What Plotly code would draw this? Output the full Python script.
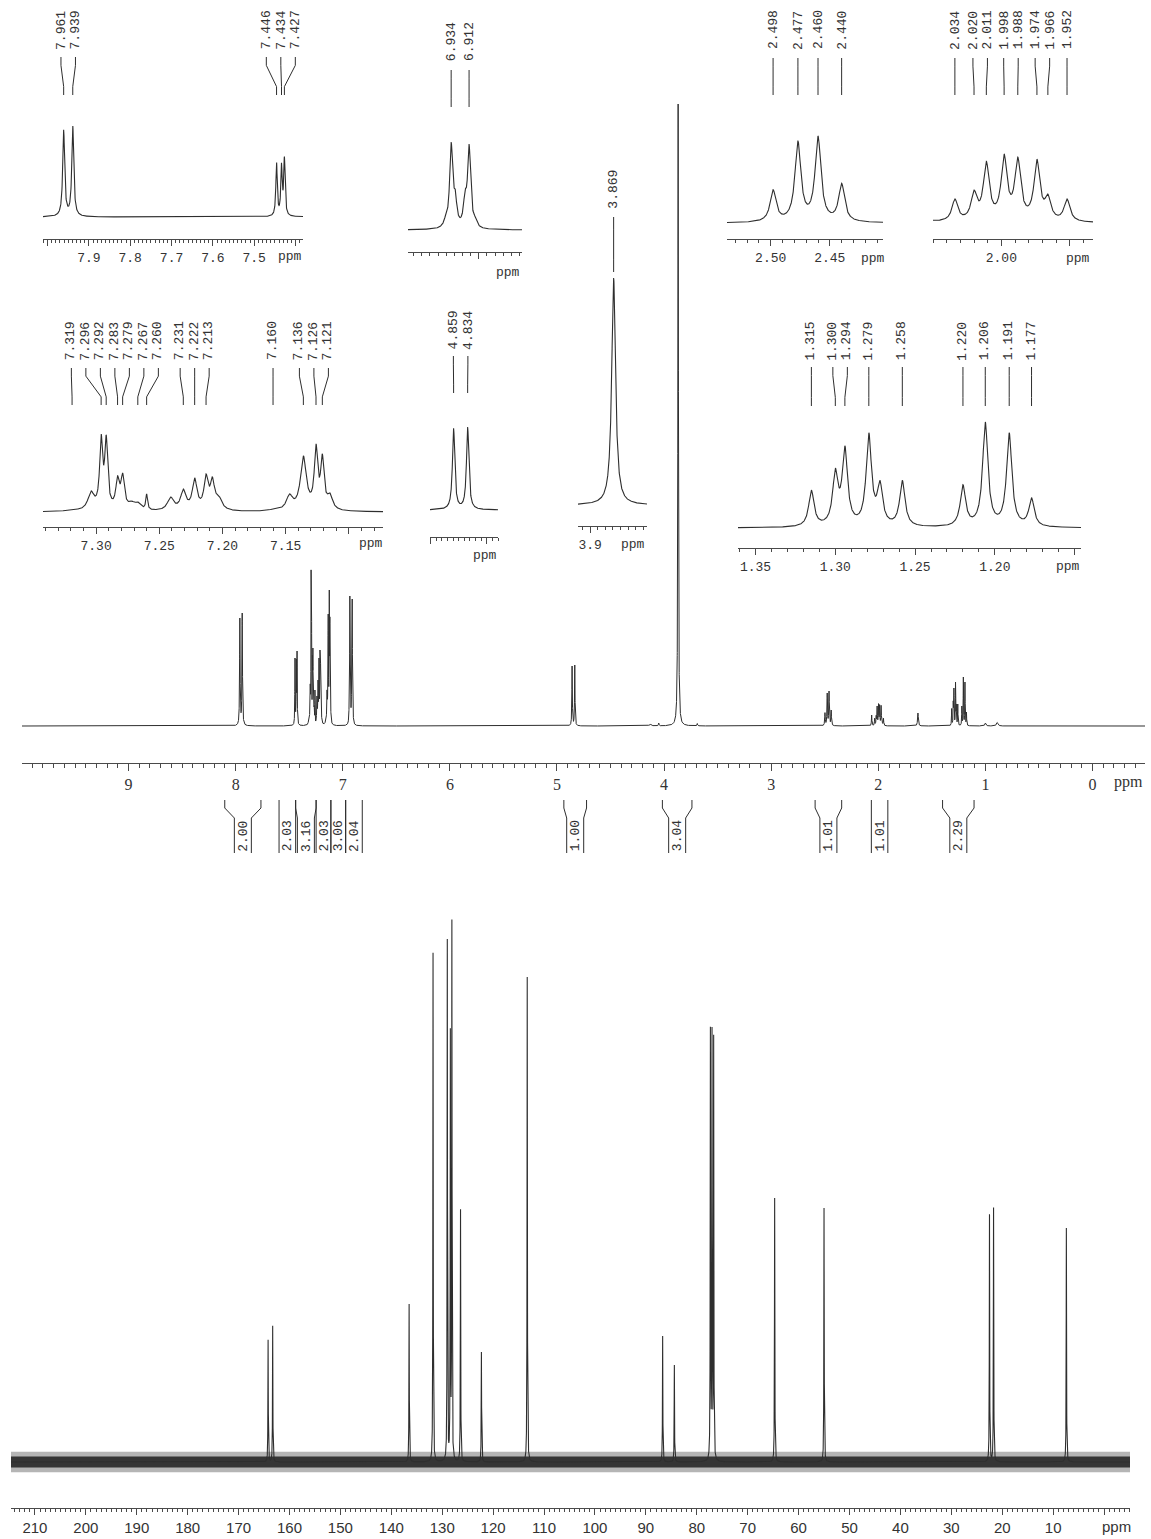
import numpy as np
import plotly.graph_objects as go

W, H = 1151, 1539

# ======================= DATA =======================
# 1H lines: chemical shift (ppm), observed height (main-spectrum scale), half width (ppm)
h1_ppm = [7.961, 7.939, 7.446, 7.434, 7.427,
          7.319, 7.304, 7.296, 7.292, 7.283, 7.279, 7.272, 7.267, 7.260,
          7.241, 7.231, 7.222, 7.213, 7.208, 7.203,
          7.160, 7.147, 7.136, 7.126, 7.121, 7.115,
          6.941, 6.934, 6.929, 6.917, 6.912, 6.905,
          4.859, 4.834, 4.130, 4.050, 3.869, 3.690,
          2.498, 2.477, 2.460, 2.440,
          2.062, 2.034, 2.020, 2.011, 1.998, 1.988, 1.974, 1.966, 1.952,
          1.630,
          1.315, 1.300, 1.294, 1.279, 1.272, 1.258, 1.220, 1.206, 1.191, 1.177,
          1.000, 0.890]
h1_height = [108, 113, 68, 67, 75,
             6, 42, 156, 154, 72, 78, 22, 20, 36,
             30, 46, 68, 76, 70, 34,
             6, 36, 112, 136, 116, 38,
             21, 130, 60, 60, 127, 21,
             60, 61, 2, 3, 622, 2.5,
             13.4, 33, 35, 16,
             11, 7.8, 10.7, 20, 22.4, 21.4, 20.7, 9.4, 7.8,
             13,
             17.5, 27.6, 38, 44, 22, 22, 20, 49, 44, 14,
             3, 3.5]
h1_hwhm = [0.0028, 0.0028, 0.002, 0.002, 0.002,
           0.004, 0.003, 0.0014, 0.0014, 0.0017, 0.0017, 0.003, 0.003, 0.0008,
           0.003, 0.0025, 0.0022, 0.002, 0.002, 0.003,
           0.004, 0.003, 0.0028, 0.0016, 0.0016, 0.0025,
           0.0025, 0.0022, 0.0022, 0.0022, 0.0022, 0.0025,
           0.0025, 0.0025, 0.01, 0.003, 0.003, 0.003,
           0.003, 0.003, 0.003, 0.003,
           0.0025, 0.0026, 0.0026, 0.0026, 0.0026, 0.0026, 0.0026, 0.0026, 0.0026,
           0.004,
           0.002, 0.002, 0.002, 0.002, 0.002, 0.002, 0.002, 0.002, 0.002, 0.002,
           0.006, 0.008]

h1_ticks = [10, 9, 8, 7, 6, 5, 4, 3, 2, 1, 0]
h1_ticktext = ["", "9", "8", "7", "6", "5", "4", "3", "2", "1", "0"]

# integrals (ppm start, ppm end, value)
int_start = [8.102, 7.595, 7.440, 7.249, 7.111, 6.973, 4.936, 4.016, 2.590, 2.065, 1.400]
int_end = [7.764, 7.440, 7.249, 7.111, 6.973, 6.818, 4.724, 3.740, 2.342, 1.911, 1.106]
int_value = ["2.00", "2.03", "3.16", "2.03", "3.06", "2.04", "1.00", "3.04", "1.01", "1.01", "2.29"]

# expansions: labelled peaks and axis ticks
ins1_labels = ["7.961", "7.939", "7.446", "7.434", "7.427"]
ins1_ticks = [8.0, 7.9, 7.8, 7.7, 7.6, 7.5, 7.4]
ins1_ticktext = ["", "7.9", "7.8", "7.7", "7.6", "7.5", ""]

ins2_labels = ["6.934", "6.912"]
ins2_ticks = [6.90]
ins2_ticktext = [""]

ins3_labels = ["2.498", "2.477", "2.460", "2.440"]
ins3_ticks = [2.50, 2.45]
ins3_ticktext = ["2.50", "2.45"]

ins4_labels = ["2.034", "2.020", "2.011", "1.998", "1.988", "1.974", "1.966", "1.952"]
ins4_ticks = [2.00, 1.95]
ins4_ticktext = ["2.00", ""]

ins5_labels = ["7.319", "7.296", "7.292", "7.283", "7.279", "7.267", "7.260",
               "7.231", "7.222", "7.213", "7.160", "7.136", "7.126", "7.121"]
ins5_ticks = [7.30, 7.25, 7.20, 7.15, 7.10]
ins5_ticktext = ["7.30", "7.25", "7.20", "7.15", ""]

ins6_labels = ["4.859", "4.834"]
ins6_ticks = [4.90, 4.80]
ins6_ticktext = ["", ""]

ins7_labels = ["3.869"]
ins7_ticks = [3.9]
ins7_ticktext = ["3.9"]

ins8_labels = ["1.315", "1.300", "1.294", "1.279", "1.258", "1.220", "1.206", "1.191", "1.177"]
ins8_ticks = [1.35, 1.30, 1.25, 1.20, 1.15]
ins8_ticktext = ["1.35", "1.30", "1.25", "1.20", ""]

# 13C lines: ppm, height
c13_ppm = [164.2, 163.3, 136.5, 131.8, 129.0, 128.4, 128.1, 126.4, 122.3, 113.3,
           86.7, 84.4, 77.32, 77.0, 76.68, 64.7, 55.0, 22.5, 21.7, 7.4]
c13_height = [122, 136, 158, 509, 520, 422, 534, 252, 110, 485,
              126, 97, 427, 422, 419, 264, 254, 247, 254, 234]
c13_hwhm = 0.04
c13_noise = 9

c13_ticks = [210, 200, 190, 180, 170, 160, 150, 140, 130, 120, 110,
             100, 90, 80, 70, 60, 50, 40, 30, 20, 10, 0]
c13_ticktext = ["210", "200", "190", "180", "170", "160", "150", "140", "130", "120", "110",
                "100", "90", "80", "70", "60", "50", "40", "30", "20", "10", ""]

# ======================= LAYOUT SPEC (pixels) =======================
MAIN = dict(x0=22, x1=1145, ppm0=9.995, ppm1=-0.490, axis_y=763, base_y=726, top_y=100)
C13 = dict(x0=11, x1=1130, ppm0=214.7, ppm1=-5.1, axis_y=1508, base_y=1462, top_y=900)
INT = dict(top=800, knee=808, shoulder=818, bottom=853, half_box=8.5, text_y=836)
LABEL_GAP = 14.5

INSETS = [
    dict(labels=ins1_labels, ticks=ins1_ticks, ticktext=ins1_ticktext, minor=0.01,
         x0=43, x1=303, ppm0=8.011, ppm1=7.382, axis_y=239, base_y=217, peak_px=91,
         text_y=30, lead=(57, 95), ppm_xy=(290, 257)),
    dict(labels=ins2_labels, ticks=ins2_ticks, ticktext=ins2_ticktext, minor=0.01,
         x0=408, x1=522, ppm0=6.987, ppm1=6.847, axis_y=252, base_y=230, peak_px=88,
         text_y=42, lead=(70, 107), ppm_xy=(508, 272)),
    dict(labels=ins3_labels, ticks=ins3_ticks, ticktext=ins3_ticktext, minor=0.01,
         x0=727, x1=883, ppm0=2.537, ppm1=2.405, axis_y=239, base_y=223, peak_px=87,
         text_y=30, lead=(58, 95), ppm_xy=(873, 258)),
    dict(labels=ins4_labels, ticks=ins4_ticks, ticktext=ins4_ticktext, minor=0.01,
         x0=933, x1=1093, ppm0=2.050, ppm1=1.933, axis_y=239, base_y=223, peak_px=69,
         text_y=30, lead=(58, 95), ppm_xy=(1078, 258)),
    dict(labels=ins5_labels, ticks=ins5_ticks, ticktext=ins5_ticktext, minor=0.01,
         x0=43, x1=383, ppm0=7.342, ppm1=7.073, axis_y=527, base_y=512, peak_px=78,
         text_y=341, lead=(368, 405), ppm_xy=(371, 543)),
    dict(labels=ins6_labels, ticks=ins6_ticks, ticktext=ins6_ticktext, minor=0.01,
         x0=430, x1=498, ppm0=4.901, ppm1=4.780, axis_y=537, base_y=510, peak_px=83,
         text_y=330, lead=(356, 393), ppm_xy=(485, 555)),
    dict(labels=ins7_labels, ticks=ins7_ticks, ticktext=ins7_ticktext, minor=0.01,
         x0=578, x1=647, ppm0=3.916, ppm1=3.825, axis_y=526, base_y=505, peak_px=227,
         text_y=189, lead=(217, 272), ppm_xy=(633, 545)),
    dict(labels=ins8_labels, ticks=ins8_ticks, ticktext=ins8_ticktext, minor=0.01,
         x0=738, x1=1081, ppm0=1.361, ppm1=1.146, axis_y=548, base_y=528, peak_px=106,
         text_y=341, lead=(367, 406), ppm_xy=(1068, 566)),
]

LINE = "#2e2e2e"
AX = "#4a4a4a"
TXT = "#333333"
MONO = "Liberation Mono, Courier New, monospace"
SERIF = "Liberation Serif, Times New Roman, serif"
SANS = "Liberation Sans, Arial, sans-serif"


def py(y):
    return 1 - y / H


def solve_amplitudes(c, h, g):
    c = np.asarray(c, float)
    h = np.asarray(h, float)
    g = np.asarray(g, float)
    A = 1.0 / (1.0 + ((c[:, None] - c[None, :]) / g[None, :]) ** 2)
    a = h.copy()
    for _ in range(200):
        for i in range(len(c)):
            s = A[i] @ a - a[i]
            a[i] = max(0.0, h[i] - s)
    return a


def lsum(x, c, a, g):
    x = np.asarray(x, float)
    out = np.zeros_like(x)
    for ci, ai, gi in zip(c, a, g):
        out += ai / (1.0 + ((x - ci) / gi) ** 2)
    return out


def spread(pos, gap):
    n = len(pos)
    q = [pos[i] - i * gap for i in range(n)]
    blocks = []
    for v in q:
        blocks.append([v, 1])
        while len(blocks) > 1 and blocks[-2][0] / blocks[-2][1] > blocks[-1][0] / blocks[-1][1]:
            s, cnt = blocks.pop()
            blocks[-1][0] += s
            blocks[-1][1] += cnt
    out = []
    for s, cnt in blocks:
        out += [s / cnt] * cnt
    return [out[i] + i * gap for i in range(n)]


h1_amp = solve_amplitudes(h1_ppm, h1_height, h1_hwhm)


def h1_spec(x):
    return lsum(x, h1_ppm, h1_amp, h1_hwhm)


def x_axis(spec, anchor, tickvals, ticktext, minor, font, ticklen=6, mticklen=3):
    return dict(domain=[spec["x0"] / W, spec["x1"] / W], range=[spec["ppm0"], spec["ppm1"]],
                anchor=anchor, showline=True, linecolor=AX, linewidth=1,
                ticks="outside", ticklen=ticklen, tickwidth=1, tickcolor=AX,
                tickmode="array", tickvals=tickvals, ticktext=ticktext, tickfont=font,
                showgrid=False, zeroline=False, fixedrange=True,
                minor=dict(tickmode="linear", tick0=0, dtick=minor, ticks="outside",
                           ticklen=mticklen, tickwidth=1, tickcolor=AX, showgrid=False))


fig = go.Figure()
layout = dict(width=W, height=H, margin=dict(l=0, r=0, t=0, b=0),
              paper_bgcolor="white", plot_bgcolor="rgba(0,0,0,0)", showlegend=False)
shapes = []
annotations = []

# ---------------- main 1H spectrum ----------------
grid = [np.linspace(MAIN["ppm1"], MAIN["ppm0"], 3000)]
for c in h1_ppm:
    grid.append(c + np.linspace(-0.03, 0.03, 301))
xg = np.unique(np.round(np.concatenate(grid), 5))[::-1]
yg = h1_spec(xg)
fig.add_trace(go.Scatter(x=xg, y=np.round(yg, 3), xaxis="x", yaxis="y", mode="lines",
                         line=dict(color=LINE, width=1), hoverinfo="skip"))
layout["xaxis"] = x_axis(MAIN, "y", h1_ticks, h1_ticktext, 0.1,
                         dict(family=SERIF, size=16, color=TXT), ticklen=7, mticklen=4)
layout["yaxis"] = dict(domain=[py(MAIN["axis_y"]), py(MAIN["top_y"])],
                       range=[-(MAIN["axis_y"] - MAIN["base_y"]), MAIN["base_y"] - MAIN["top_y"]],
                       anchor="x", visible=False, fixedrange=True)
annotations.append(dict(x=1.0, y=py(782), xref="x domain", yref="paper", text="ppm",
                        showarrow=False, xanchor="right", yanchor="middle",
                        font=dict(family=SERIF, size=16, color=TXT)))

# integrals
main_pp = (MAIN["x1"] - MAIN["x0"]) / (MAIN["ppm0"] - MAIN["ppm1"])
hb = INT["half_box"] / main_pp
for s, e, v in zip(int_start, int_end, int_value):
    c = (s + e) / 2
    il = min(s, c + hb)
    ir = max(e, c - hb)
    for xe, xi in ((s, il), (e, ir)):
        path = (f"M {xe},{py(INT['top'])} L {xe},{py(INT['knee'])} "
                f"L {xi},{py(INT['shoulder'])} L {xi},{py(INT['bottom'])}")
        shapes.append(dict(type="path", path=path, xref="x", yref="paper",
                           line=dict(color=LINE, width=1)))
    annotations.append(dict(x=c, y=py(INT["text_y"]), xref="x", yref="paper", text=v,
                            textangle=-90, showarrow=False, xanchor="center", yanchor="middle",
                            font=dict(family=MONO, size=13, color=TXT)))

# ---------------- 13C spectrum ----------------
cg = [np.linspace(C13["ppm1"], C13["ppm0"], 2500)]
for c in c13_ppm:
    cg.append(c + np.linspace(-0.5, 0.5, 101))
xc = np.unique(np.round(np.concatenate(cg), 4))[::-1]
yc = lsum(xc, c13_ppm, c13_height, [c13_hwhm] * len(c13_ppm))
band_x = [C13["ppm0"], C13["ppm1"], C13["ppm1"], C13["ppm0"], C13["ppm0"]]
for scale, colr in ((1.15, "rgba(90,90,90,0.45)"), (0.6, "rgba(30,30,30,0.85)")):
    n = c13_noise * scale
    fig.add_trace(go.Scatter(x=band_x, y=[-n, -n, n, n, -n], xaxis="x2", yaxis="y2",
                             mode="lines", fill="toself", fillcolor=colr,
                             line=dict(width=0), hoverinfo="skip"))
fig.add_trace(go.Scatter(x=xc, y=np.round(yc, 3), xaxis="x2", yaxis="y2", mode="lines",
                         line=dict(color=LINE, width=1.1), hoverinfo="skip"))
layout["xaxis2"] = x_axis(C13, "y2", c13_ticks, c13_ticktext, 1,
                          dict(family=SANS, size=15, color=TXT), ticklen=6, mticklen=3)
layout["yaxis2"] = dict(domain=[py(C13["axis_y"]), py(C13["top_y"])],
                        range=[-(C13["axis_y"] - C13["base_y"]), C13["base_y"] - C13["top_y"]],
                        anchor="x2", visible=False, fixedrange=True)
annotations.append(dict(x=1116 / W, y=py(1526), xref="paper", yref="paper", text="ppm",
                        showarrow=False, xanchor="center", yanchor="middle",
                        font=dict(family=SANS, size=15, color=TXT)))

# ---------------- expansions ----------------
for k, ins in enumerate(INSETS, start=3):
    xa, ya = f"x{k}", f"y{k}"
    xi = np.linspace(ins["ppm1"], ins["ppm0"], 1500)[::-1]
    yi = h1_spec(xi)
    u = yi.max() / ins["peak_px"]
    top_y = ins["base_y"] - ins["peak_px"] - 3
    fig.add_trace(go.Scatter(x=xi, y=np.round(yi, 4), xaxis=xa, yaxis=ya, mode="lines",
                             line=dict(color=LINE, width=1.1), hoverinfo="skip"))
    layout[f"xaxis{k}"] = x_axis(ins, ya, ins["ticks"], ins["ticktext"], ins["minor"],
                                 dict(family=MONO, size=13, color=TXT), ticklen=6, mticklen=3)
    layout[f"yaxis{k}"] = dict(domain=[py(ins["axis_y"]), py(top_y)],
                               range=[-(ins["axis_y"] - ins["base_y"]) * u,
                                      (ins["base_y"] - top_y) * u],
                               anchor=xa, visible=False, fixedrange=True)
    pp = (ins["x1"] - ins["x0"]) / (ins["ppm0"] - ins["ppm1"])
    vals = [float(t) for t in ins["labels"]]
    pk_px = [ins["x0"] + (ins["ppm0"] - v) * pp for v in vals]
    order = np.argsort(pk_px)
    pk_sorted = [pk_px[i] for i in order]
    lab_px = spread(pk_sorted, LABEL_GAP)
    ya0, yb0 = ins["lead"]
    y1 = ya0 + 0.22 * (yb0 - ya0)
    y2 = ya0 + 0.78 * (yb0 - ya0)
    for j, i in enumerate(order):
        lx = ins["ppm0"] - (lab_px[j] - ins["x0"]) / pp
        px = vals[i]
        path = f"M {lx},{py(ya0)} L {lx},{py(y1)} L {px},{py(y2)} L {px},{py(yb0)}"
        shapes.append(dict(type="path", path=path, xref=xa, yref="paper",
                           line=dict(color=LINE, width=1)))
        annotations.append(dict(x=lx, y=py(ins["text_y"]), xref=xa, yref="paper",
                                text=ins["labels"][i], textangle=-90, showarrow=False,
                                xanchor="center", yanchor="middle",
                                font=dict(family=MONO, size=13, color=TXT)))
    annotations.append(dict(x=ins["ppm_xy"][0] / W, y=py(ins["ppm_xy"][1]), xref="paper",
                            yref="paper", text="ppm", showarrow=False, xanchor="center",
                            yanchor="middle", font=dict(family=MONO, size=13, color=TXT)))

layout["shapes"] = shapes
layout["annotations"] = annotations
fig.update_layout(**layout)
fig.write_html("out.html", config={"displayModeBar": False},
               post_script="document.body.style.margin='0';document.body.style.overflow='hidden';")
